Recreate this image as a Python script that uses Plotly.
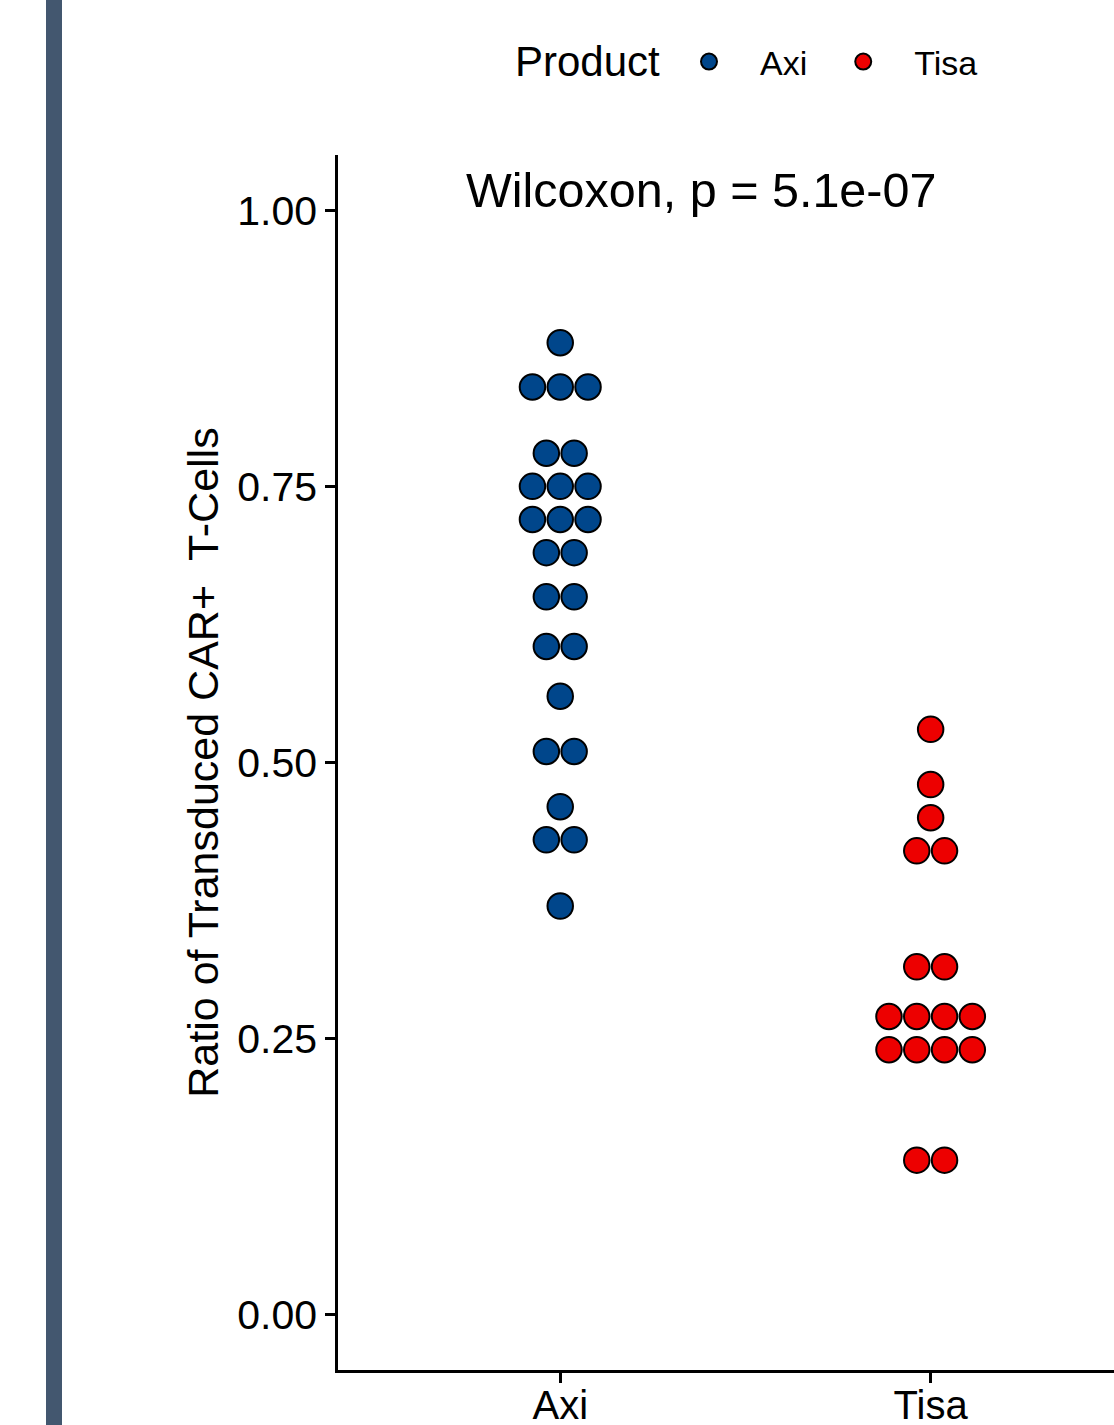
import plotly.graph_objects as go
from collections import Counter

# ---- data ----
categories = ["Axi", "Tisa"]
axi_values = [0.88, 0.84, 0.84, 0.84, 0.78, 0.78, 0.75, 0.75, 0.75,
              0.72, 0.72, 0.72, 0.69, 0.69, 0.65, 0.65, 0.605, 0.605,
              0.56, 0.51, 0.51, 0.46, 0.43, 0.43, 0.37]
tisa_values = [0.53, 0.48, 0.45, 0.42, 0.42, 0.315, 0.315,
               0.27, 0.27, 0.27, 0.27, 0.24, 0.24, 0.24, 0.24, 0.14, 0.14]
y_tickvals = [0.00, 0.25, 0.50, 0.75, 1.00]
y_ticktext = ["0.00", "0.25", "0.50", "0.75", "1.00"]
colors = {"Axi": "#00468B", "Tisa": "#ED0000"}
legend_title = "Product"
annotation_text = "Wilcoxon, p = 5.1e-07"
y_title = "Ratio of Transduced CAR+\u00a0\u00a0T-Cells\u00a0"

DOT_W = 0.075  # horizontal stacking step in category units


def stack(values, center):
    counts = Counter(values)
    seen = Counter()
    xs, ys = [], []
    for v in values:
        n = counts[v]
        i = seen[v]
        seen[v] += 1
        xs.append(center + (i - (n - 1) / 2) * DOT_W)
        ys.append(v)
    return xs, ys


FONT = "Liberation Sans, Arial, sans-serif"
PLOT_L, PLOT_T, PLOT_W, PLOT_H = 338, 155, 776, 1215


def px_x(px):
    return (px - PLOT_L) / PLOT_W


def px_y(py):
    return (PLOT_T + PLOT_H - py) / PLOT_H


fig = go.Figure()
for idx, (name, vals) in enumerate(zip(categories, [axi_values, tisa_values])):
    xs, ys = stack(vals, idx + 1)
    fig.add_trace(go.Scatter(
        x=xs, y=ys, mode="markers", name=name,
        marker=dict(size=25.5, color=colors[name],
                    line=dict(color="black", width=2)),
    ))

fig.update_layout(
    width=1114, height=1425,
    margin=dict(l=PLOT_L, r=0, t=PLOT_T, b=1425 - PLOT_T - PLOT_H),
    paper_bgcolor="white", plot_bgcolor="white",
    font=dict(family=FONT, color="black"),
    showlegend=True,
    legend=dict(
        orientation="h", x=px_x(658), xanchor="left",
        y=px_y(62), yanchor="middle",
        font=dict(size=34), itemwidth=92, tracegroupgap=0,
    ),
    xaxis=dict(
        range=[0.4, 2.495], tickvals=[1, 2], ticktext=categories,
        showgrid=False, zeroline=False, showline=True, linecolor="black",
        linewidth=2.5, ticks="outside", ticklen=10, tickwidth=2.5,
        tickcolor="black", tickfont=dict(size=40), automargin=False,
        ticklabelstandoff=-12,
    ),
    yaxis=dict(
        range=[-0.05, 1.05], tickvals=y_tickvals, ticktext=y_ticktext,
        showgrid=False, zeroline=False, showline=True, linecolor="black",
        linewidth=2.5, ticks="outside", ticklen=10, tickwidth=2.5,
        tickcolor="black", tickfont=dict(size=41), automargin=False,
        title=dict(text=y_title, font=dict(size=43), standoff=6),
    ),
    annotations=[
        dict(text=annotation_text, xref="paper", yref="paper",
             x=0.4684, y=0.9709, xanchor="center", yanchor="middle",
             showarrow=False, font=dict(size=48.5, family=FONT)),
        dict(text=legend_title, xref="paper", yref="paper",
             x=px_x(662), y=px_y(62), xanchor="right", yanchor="middle",
             showarrow=False, font=dict(size=42, family=FONT)),
    ],
    shapes=[dict(
        type="rect", xref="paper", yref="paper",
        x0=px_x(46), x1=px_x(62), y0=-0.1, y1=1.2,
        fillcolor="#43576F", line=dict(width=0), layer="above",
    )],
)

fig.write_html("out.html", config={"displayModeBar": False},
               post_script="document.body.style.margin='0';document.body.style.overflow='hidden';")
